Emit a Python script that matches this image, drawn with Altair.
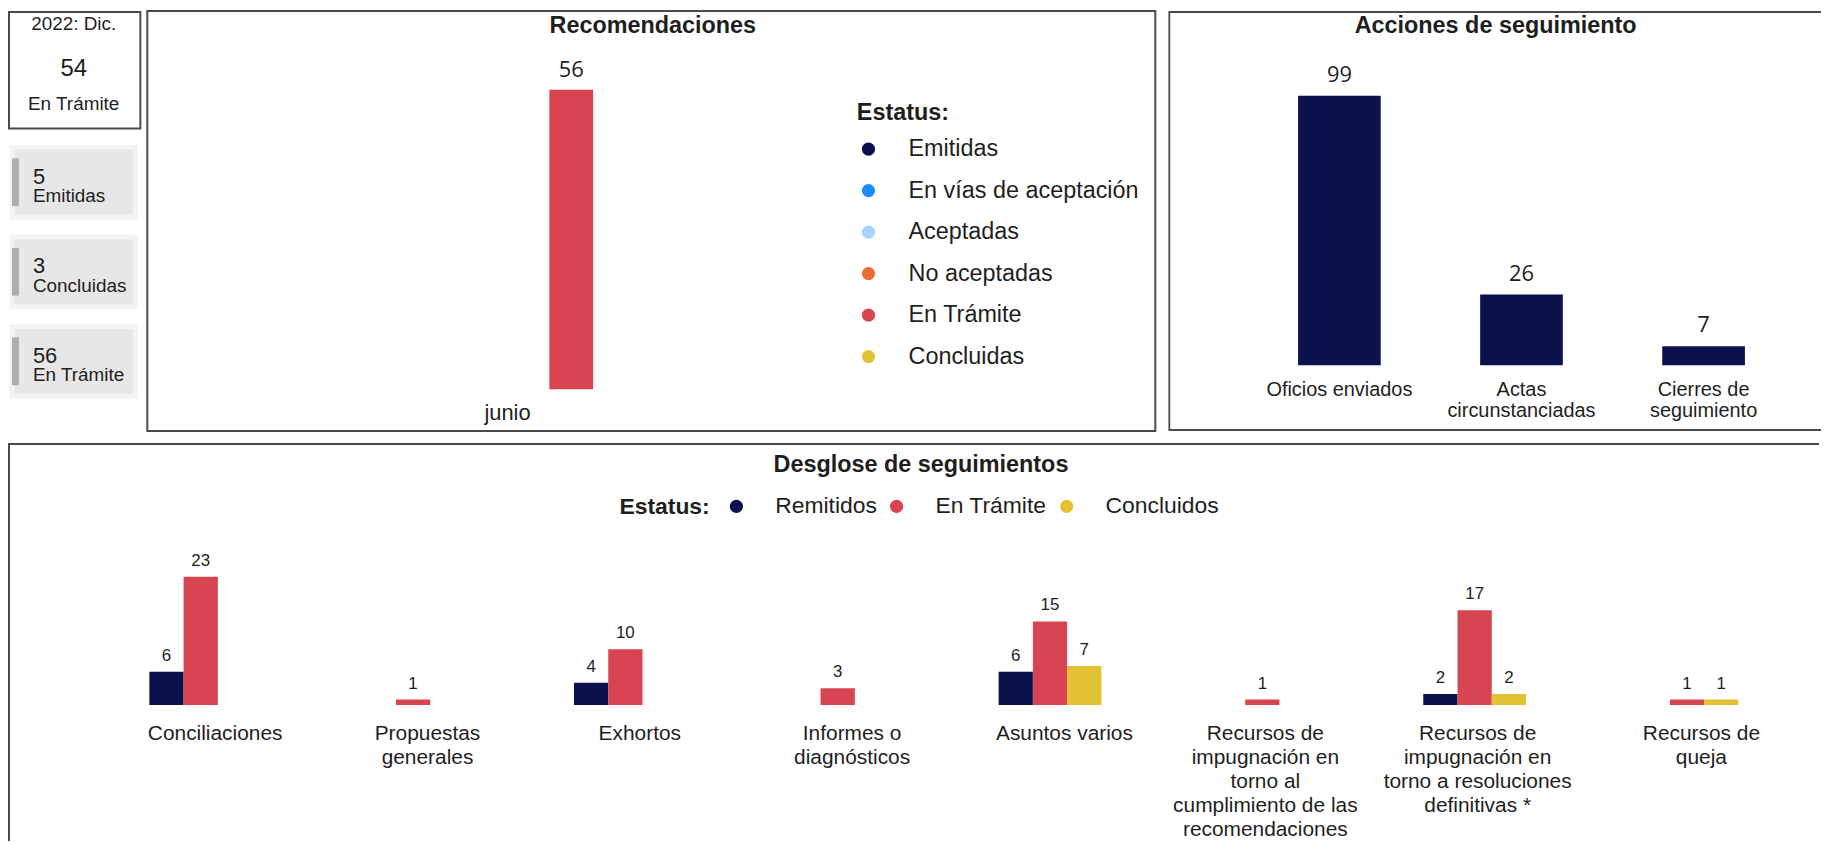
import altair as alt
import pandas as pd

FONT = "Liberation Sans"
NUMFONT = "Open Sans"
BORDER = "#4a4a4a"
TXT = "#1e1e1e"
NAVY = "#0b114d"
RED = "#d84452"
YELLOW = "#e2c233"

# ---------------- data ----------------
kpi_period = ["2022: Dic."]
kpi_value = [54]
kpi_label = ["En Trámite"]

card_values = [5, 3, 56]
card_labels = ["Emitidas", "Concluidas", "En Trámite"]

reco_title = ["Recomendaciones"]
reco_months = ["junio"]
reco_status = ["En Trámite"]
reco_values = [56]
reco_legend_status = ["Emitidas", "En vías de aceptación", "Aceptadas",
                      "No aceptadas", "En Trámite", "Concluidas"]
reco_legend_colors = [NAVY, "#1b8dff", "#a6d3ff", "#ec6b35", RED, YELLOW]

acc_title = ["Acciones de seguimiento"]
acc_categories = ["Oficios enviados", "Actas circunstanciadas", "Cierres de seguimiento"]
acc_labels = ["Oficios enviados", "Actas\ncircunstanciadas", "Cierres de\nseguimiento"]
acc_values = [99, 26, 7]

des_title = ["Desglose de seguimientos"]
des_categories = ["Conciliaciones", "Propuestas generales", "Exhortos",
                  "Informes o diagnósticos", "Asuntos varios",
                  "Recursos de impugnación en torno al cumplimiento de las recomendaciones",
                  "Recursos de impugnación en torno a resoluciones definitivas *",
                  "Recursos de queja"]
des_labels = ["Conciliaciones", "Propuestas\ngenerales", "Exhortos",
              "Informes o\ndiagnósticos", "Asuntos varios",
              "Recursos de\nimpugnación en\ntorno al\ncumplimiento de las\nrecomendaciones",
              "Recursos de\nimpugnación en\ntorno a resoluciones\ndefinitivas *",
              "Recursos de\nqueja"]
des_status_domain = ["Remitidos", "En Trámite", "Concluidos"]
des_status_colors = [NAVY, RED, YELLOW]
des_remitidos = [6, None, 4, None, 6, None, 2, None]
des_tramite = [23, 1, 10, 3, 15, 1, 17, 1]
des_concluidos = [None, None, None, None, 7, None, 2, 1]

# ---------------- left column (KPI + cards) ----------------
kpi_df = pd.DataFrame({"period": kpi_period, "value": kpi_value, "label": kpi_label})
kpi_box = alt.Chart(kpi_df).mark_rect(fill="white", stroke=BORDER, strokeWidth=2).encode(
    x=alt.value(1), x2=alt.value(133), y=alt.value(1), y2=alt.value(118))
kpi_t1 = alt.Chart(kpi_df).mark_text(font=FONT, fontSize=19, color=TXT).encode(
    text="period:N", x=alt.value(66), y=alt.value(13.5))
kpi_t2 = alt.Chart(kpi_df).mark_text(font=FONT, fontSize=24, color=TXT).encode(
    text="value:Q", x=alt.value(66), y=alt.value(58.5))
kpi_t3 = alt.Chart(kpi_df).mark_text(font=FONT, fontSize=19, color=TXT).encode(
    text="label:N", x=alt.value(66), y=alt.value(93.5))

cards_df = pd.DataFrame({"label": card_labels, "value": card_values})
ycard = alt.Y("label:N", scale=alt.Scale(domain=card_labels, range=[127, 397],
                                          paddingInner=0.222, paddingOuter=0.111), axis=None)
card_bg = alt.Chart(cards_df).mark_rect(fill="#e7e7e7", stroke="#f3f3f3", strokeWidth=5).encode(
    x=alt.value(4), x2=alt.value(128), y=ycard)
card_strip = alt.Chart(cards_df).mark_bar(color="#b0adab", height=48, orient="horizontal").encode(
    x=alt.value(4), x2=alt.value(11), y=ycard)
card_val = alt.Chart(cards_df).mark_text(font=FONT, fontSize=22, color=TXT, align="left", dy=-5.5).encode(
    x=alt.value(25), y=ycard, text="value:Q")
card_lab = alt.Chart(cards_df).mark_text(font=FONT, fontSize=19, color=TXT, align="left", dy=14).encode(
    x=alt.value(25), y=ycard, text="label:N")

left = alt.layer(kpi_box, kpi_t1, kpi_t2, kpi_t3, card_bg, card_strip, card_val, card_lab).properties(
    width=134, height=390, view=alt.ViewBackground(stroke=None))

# ---------------- Recomendaciones ----------------
reco_df = pd.DataFrame({"mes": reco_months, "estatus": reco_status, "valor": reco_values})
rx = alt.X("mes:N", scale=alt.Scale(domain=reco_months, range=[404, 448],
                                     paddingInner=0, paddingOuter=0), axis=None)
ry = alt.Y("valor:Q", scale=alt.Scale(domain=[0, max(reco_values)], range=[380, 79], nice=False), axis=None)
reco_bar = alt.Chart(reco_df).mark_bar().encode(
    x=rx, y=ry,
    color=alt.Color("estatus:N",
                    scale=alt.Scale(domain=reco_legend_status, range=reco_legend_colors),
                    legend=alt.Legend(orient="none", legendX=713, legendY=90, title="Estatus:",
                                      titleFont=FONT, titleFontSize=23.5, titleFontWeight="bold",
                                      titleColor=TXT, titlePadding=13.5, labelFont=FONT,
                                      labelFontSize=23.5, labelColor=TXT, labelLimit=400,
                                      symbolType="circle", symbolSize=177, symbolStrokeWidth=0,
                                      labelOffset=28.5, rowPadding=16.7, padding=0, symbolOpacity=1)))
reco_val = alt.Chart(reco_df).mark_text(font=NUMFONT, fontSize=22, color=TXT, baseline="bottom", dy=-7.5).encode(
    x=rx, y=ry, text="valor:Q")
reco_mes = alt.Chart(reco_df).mark_text(font=FONT, fontSize=22, color=TXT, dx=-64).encode(
    x=rx, y=alt.value(404), text="mes:N")
reco_tt = alt.Chart(pd.DataFrame({"t": reco_title})).mark_text(
    font=FONT, fontSize=23.5, fontWeight="bold", color=TXT).encode(
    text="t:N", x=alt.value(508), y=alt.value(15.5))
reco = alt.layer(reco_bar, reco_val, reco_mes, reco_tt).properties(
    width=1013, height=422, view=alt.ViewBackground(stroke=BORDER, strokeWidth=2, fill="white"))

# ---------------- Acciones de seguimiento ----------------
acc_df = pd.DataFrame({"cat": acc_categories, "label": acc_labels, "valor": acc_values})
ax = alt.X("cat:N", scale=alt.Scale(domain=acc_categories, range=[80.5, 629.5],
                                     paddingInner=0.546, paddingOuter=0.273), axis=None)
ay = alt.Y("valor:Q", scale=alt.Scale(domain=[0, max(acc_values)], range=[356, 85], nice=False), axis=None)
acc_border = alt.Chart(pd.DataFrame({"t": acc_title})).mark_rect(
    fillOpacity=0, stroke=BORDER, strokeWidth=2, clip=True).encode(
    x=alt.value(1), x2=alt.value(690), y=alt.value(1), y2=alt.value(421))
acc_bar = alt.Chart(acc_df).mark_bar(color=NAVY).encode(x=ax, y=ay)
acc_val = alt.Chart(acc_df).mark_text(font=NUMFONT, fontSize=22, color=TXT, baseline="bottom", dy=-9).encode(
    x=ax, y=ay, text="valor:Q")
acc_lab = alt.Chart(acc_df).mark_text(font=FONT, fontSize=20, color=TXT, baseline="top",
                                      lineBreak="\n", lineHeight=21).encode(
    x=ax, y=alt.value(371), text="label:N")
acc_tt = alt.Chart(pd.DataFrame({"t": acc_title})).mark_text(
    font=FONT, fontSize=23.5, fontWeight="bold", color=TXT).encode(
    text="t:N", x=alt.value(329), y=alt.value(15.5))
acc = alt.layer(acc_border, acc_bar, acc_val, acc_lab, acc_tt).properties(
    width=656, height=422, view=alt.ViewBackground(stroke=None))

# ---------------- Desglose de seguimientos ----------------
rows = []
for i, c in enumerate(des_categories):
    for s, vals in zip(des_status_domain, [des_remitidos, des_tramite, des_concluidos]):
        if vals[i] is not None:
            rows.append({"cat": c, "estatus": s, "valor": vals[i]})
des_df = pd.DataFrame(rows)
des_lab_df = pd.DataFrame({"cat": des_categories, "label": des_labels})

dxs = alt.X("cat:N", scale=alt.Scale(domain=des_categories, range=[87, 1794],
                                      paddingInner=0.516, paddingOuter=0.258), axis=None)
dxo = alt.XOffset("estatus:N", scale=alt.Scale(domain=des_status_domain, paddingInner=0, paddingOuter=0))
dys = alt.Y("valor:Q", scale=alt.Scale(domain=[0, max(des_tramite)], range=[263.5, 134.5], nice=False), axis=None)

des_border = alt.Chart(pd.DataFrame({"t": des_title})).mark_rect(
    fillOpacity=0, stroke=BORDER, strokeWidth=2, clip=True).encode(
    x=alt.value(1), x2=alt.value(1860), y=alt.value(1), y2=alt.value(440))
des_bar = alt.Chart(des_df).mark_bar().encode(
    x=dxs, xOffset=dxo, y=dys,
    color=alt.Color("estatus:N",
                    scale=alt.Scale(domain=des_status_domain, range=des_status_colors),
                    legend=alt.Legend(orient="none", direction="horizontal", columns=3,
                                      legendX=614.5, legendY=52, title="Estatus:", titleOrient="left",
                                      titleFont=FONT, titleFontSize=23, titleFontWeight="bold",
                                      titleColor=TXT, titlePadding=15, labelFont=FONT,
                                      labelFontSize=23, labelColor=TXT, symbolType="circle",
                                      symbolSize=177, symbolStrokeWidth=0, labelOffset=27.5,
                                      columnPadding=8, padding=0, symbolOpacity=1)))
des_val = alt.Chart(des_df).mark_text(font=FONT, fontSize=17, color=TXT, baseline="bottom", dy=-7).encode(
    x=dxs, xOffset=dxo, y=dys, text="valor:Q")
lab_base = alt.Chart(des_lab_df).transform_calculate(
    nlines="length(split(datum.label, '\\n'))")
des_lab_short = lab_base.transform_filter("datum.nlines <= 2").mark_text(
    font=FONT, fontSize=21, color=TXT, baseline="alphabetic", lineBreak="\n",
    lineHeight=24, dx=14.5).encode(x=dxs, y=alt.value(299), text="label:N")
des_lab_long = lab_base.transform_filter("datum.nlines > 2").mark_text(
    font=FONT, fontSize=21, color=TXT, baseline="alphabetic", lineBreak="\n",
    lineHeight=24, dx=3).encode(x=dxs, y=alt.value(299), text="label:N")
des_tt = alt.Chart(pd.DataFrame({"t": des_title})).mark_text(
    font=FONT, fontSize=23.5, fontWeight="bold", color=TXT).encode(
    text="t:N", x=alt.value(917.5), y=alt.value(22))
des = alt.layer(des_border, des_bar, des_val, des_lab_short, des_lab_long, des_tt).properties(
    width=1820, height=400, view=alt.ViewBackground(stroke=None))

inner = alt.hconcat(reco, acc, spacing=12).resolve_scale(color="independent")
top = alt.hconcat(left, inner, spacing=5).resolve_scale(color="independent")
chart = alt.vconcat(top, des, spacing=11).resolve_scale(color="independent").properties(
    padding=0).configure(font=FONT).configure_view(stroke=None)

chart.save("out.html", embed_options={"renderer": "svg", "actions": False})
